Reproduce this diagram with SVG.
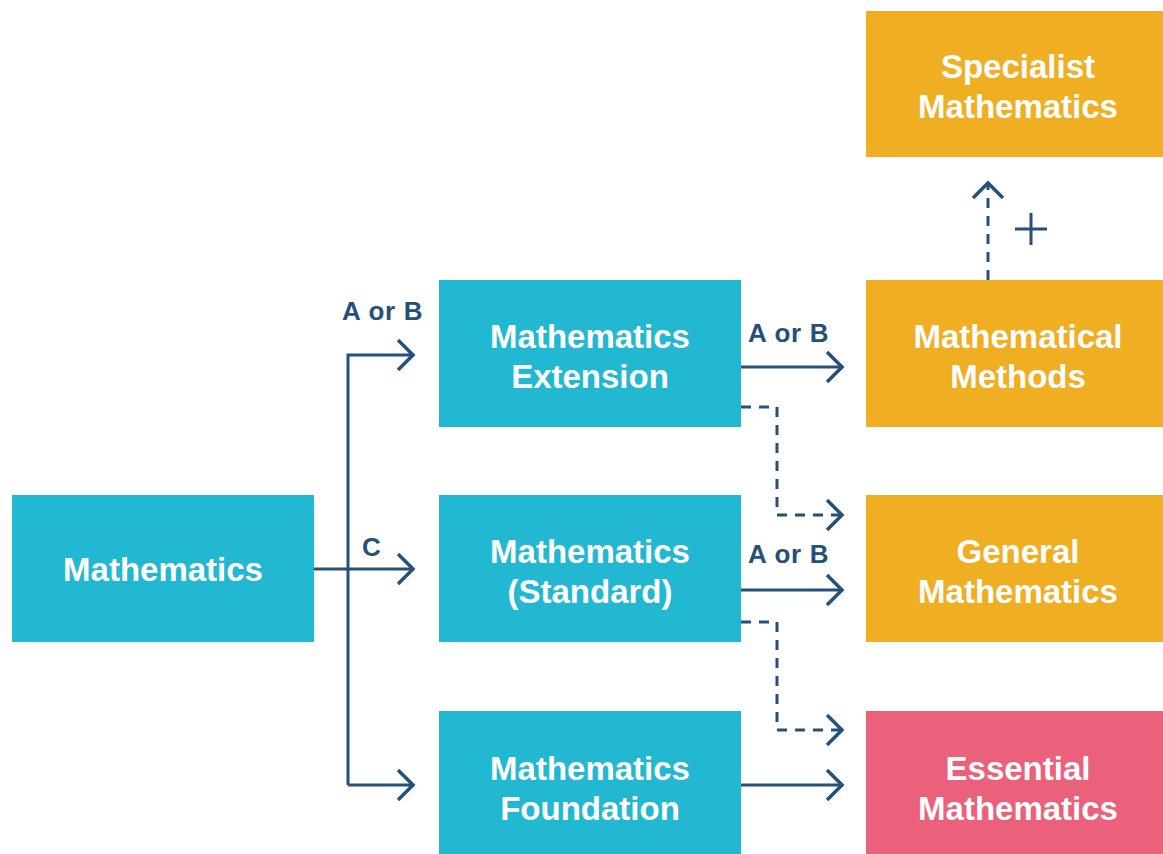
<svg xmlns="http://www.w3.org/2000/svg" width="1163" height="854" viewBox="0 0 1163 854">
<defs>
<style>
.teal{fill:#22b8d1}
.orange{fill:#f0ae22}
.pink{fill:#eb607b}
.t{font-family:"Liberation Sans",Arial,sans-serif;font-weight:bold;font-size:33px;fill:#fff;text-anchor:middle}
.lbl{font-family:"Liberation Sans",Arial,sans-serif;font-weight:bold;font-size:26px;letter-spacing:0.7px;fill:#24507a}
.ln{fill:none;stroke:#24507a;stroke-width:3}
.dash{stroke-dasharray:10 8}
</style>
<marker id="ah" markerWidth="20" markerHeight="32" refX="18" refY="16" orient="auto" markerUnits="userSpaceOnUse">
<path d="M2,1 L17,16 L2,31" fill="none" stroke="#24507a" stroke-width="3.5"/>
</marker>
</defs>
<rect width="1163" height="854" fill="#fff"/>
<g id="connectors">
<path class="ln" d="M314,569 H414" marker-end="url(#ah)"/>
<path class="ln" d="M348,785 V355 H414" marker-end="url(#ah)"/>
<path class="ln" d="M348,785 H414" marker-end="url(#ah)"/>
<path class="ln" d="M741,367 H843" marker-end="url(#ah)"/>
<path class="ln" d="M741,590 H843" marker-end="url(#ah)"/>
<path class="ln" d="M741,785 H843" marker-end="url(#ah)"/>
<path class="ln dash" d="M741,407 H777 V515 H843" marker-end="url(#ah)"/>
<path class="ln dash" d="M741,622 H777 V730 H843" marker-end="url(#ah)"/>
<path class="ln dash" d="M988,280 V182" marker-end="url(#ah)"/>
<path class="ln" d="M1015,229 H1047 M1031,213 V245"/>
<text class="lbl" x="342" y="320">A or B</text>
<text class="lbl" x="362" y="556">C</text>
<text class="lbl" x="748" y="342">A or B</text>
<text class="lbl" x="748" y="563">A or B</text>
</g>
<g id="mathematics">
<rect class="teal" x="12" y="495" width="302" height="147"/>
<text class="t" x="163" y="581">Mathematics</text>
</g>
<g id="extension">
<rect class="teal" x="439" y="280" width="302" height="147"/>
<text class="t" x="590" y="348">Mathematics</text>
<text class="t" x="590" y="388">Extension</text>
</g>
<g id="standard">
<rect class="teal" x="439" y="495" width="302" height="147"/>
<text class="t" x="590" y="563">Mathematics</text>
<text class="t" x="590" y="603">(Standard)</text>
</g>
<g id="foundation">
<rect class="teal" x="439" y="711" width="302" height="143"/>
<text class="t" x="590" y="780">Mathematics</text>
<text class="t" x="590" y="820">Foundation</text>
</g>
<g id="specialist">
<rect class="orange" x="866" y="11" width="297" height="146"/>
<text class="t" x="1018" y="78">Specialist</text>
<text class="t" x="1018" y="118">Mathematics</text>
</g>
<g id="methods">
<rect class="orange" x="866" y="280" width="297" height="147"/>
<text class="t" x="1018" y="348">Mathematical</text>
<text class="t" x="1018" y="388">Methods</text>
</g>
<g id="general">
<rect class="orange" x="866" y="495" width="297" height="147"/>
<text class="t" x="1018" y="563">General</text>
<text class="t" x="1018" y="603">Mathematics</text>
</g>
<g id="essential">
<rect class="pink" x="866" y="711" width="297" height="143"/>
<text class="t" x="1018" y="780">Essential</text>
<text class="t" x="1018" y="820">Mathematics</text>
</g>
</svg>
